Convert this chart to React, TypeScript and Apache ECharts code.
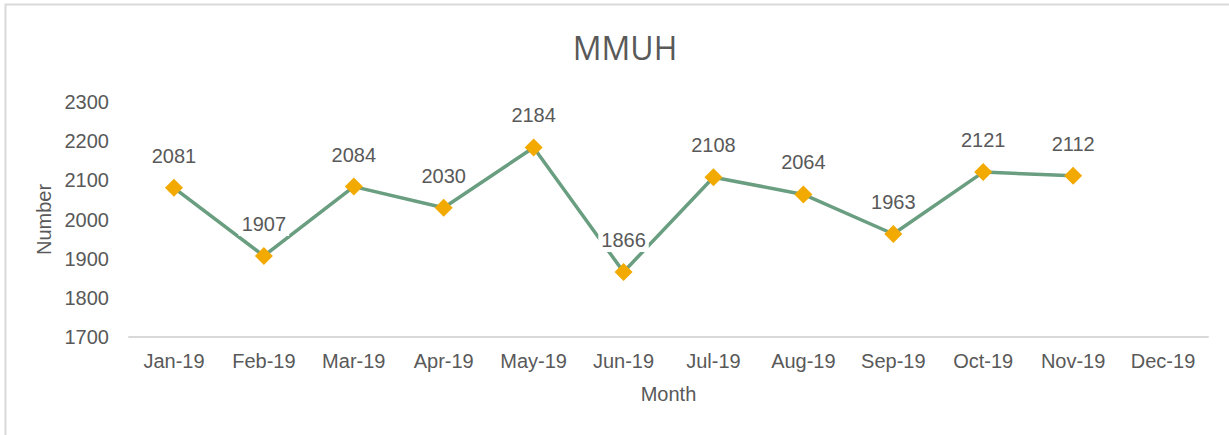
import React, { useEffect, useRef } from "react";
import * as echarts from "echarts";

const categories = ["Jan-19", "Feb-19", "Mar-19", "Apr-19", "May-19", "Jun-19", "Jul-19", "Aug-19", "Sep-19", "Oct-19", "Nov-19", "Dec-19"];
const values: (number | null)[] = [2081, 1907, 2084, 2030, 2184, 1866, 2108, 2064, 1963, 2121, 2112, null];
const yMin = 1700;
const yMax = 2300;
const yStep = 100;

const TXT = "#595959";
const NARROW = "'Liberation Sans Narrow', 'Arial Narrow', 'Liberation Sans', Arial, sans-serif";

export default function App() {
  const ref = useRef<HTMLDivElement>(null);
  useEffect(() => {
    if (!ref.current) return;
    const chart = echarts.init(ref.current, undefined, { renderer: "svg" });
    chart.setOption({
      animation: false,
      backgroundColor: "#ffffff",
      title: {
        text: "MMUH",
        left: 620,
        top: 26,
        textAlign: "center",
        textStyle: { color: TXT, fontSize: 32, fontWeight: "normal", fontFamily: "'Open Sans', 'Noto Sans', sans-serif" },
      },
      graphic: [
        {
          type: "rect",
          shape: { x: 5.5, y: 4.5, width: 1240, height: 460 },
          style: { fill: "none", stroke: "#D9D9D9", lineWidth: 2 },
          silent: true,
          z: -10,
        },
      ],
      grid: { left: 129, right: 21, top: 102, bottom: 98 },
      xAxis: {
        type: "category",
        data: categories,
        boundaryGap: true,
        name: "Month",
        nameLocation: "middle",
        nameGap: 47,
        nameTextStyle: { color: TXT, fontSize: 20, fontFamily: NARROW },
        axisLine: { lineStyle: { color: "#D9D9D9", width: 2 } },
        axisTick: { show: false },
        axisLabel: { color: TXT, fontSize: 20, fontFamily: NARROW, margin: 14, interval: 0 },
      },
      yAxis: {
        type: "value",
        min: yMin,
        max: yMax,
        interval: yStep,
        name: "Number",
        nameLocation: "middle",
        nameGap: 57,
        nameTextStyle: { color: TXT, fontSize: 20, fontFamily: NARROW },
        axisLine: { show: false },
        axisTick: { show: false },
        splitLine: { show: false },
        axisLabel: { color: TXT, fontSize: 20, fontFamily: NARROW, margin: 20, formatter: (v: number) => String(v) },
      },
      series: [
        {
          type: "line",
          data: values,
          symbol: "diamond",
          symbolSize: [18, 18],
          lineStyle: { color: "#6A9E80", width: 3.5 },
          itemStyle: { color: "#F2A900" },
          label: {
            show: true,
            position: "top",
            distance: 11,
            color: TXT,
            fontSize: 20,
            fontFamily: NARROW,
            backgroundColor: "#ffffff",
            padding: [2, 3],
          },
          z: 3,
        },
      ],
    });
    return () => chart.dispose();
  }, []);
  return <div ref={ref} style={{ position: "absolute", left: 0, top: 0, width: 1229, height: 435 }} />;
}
